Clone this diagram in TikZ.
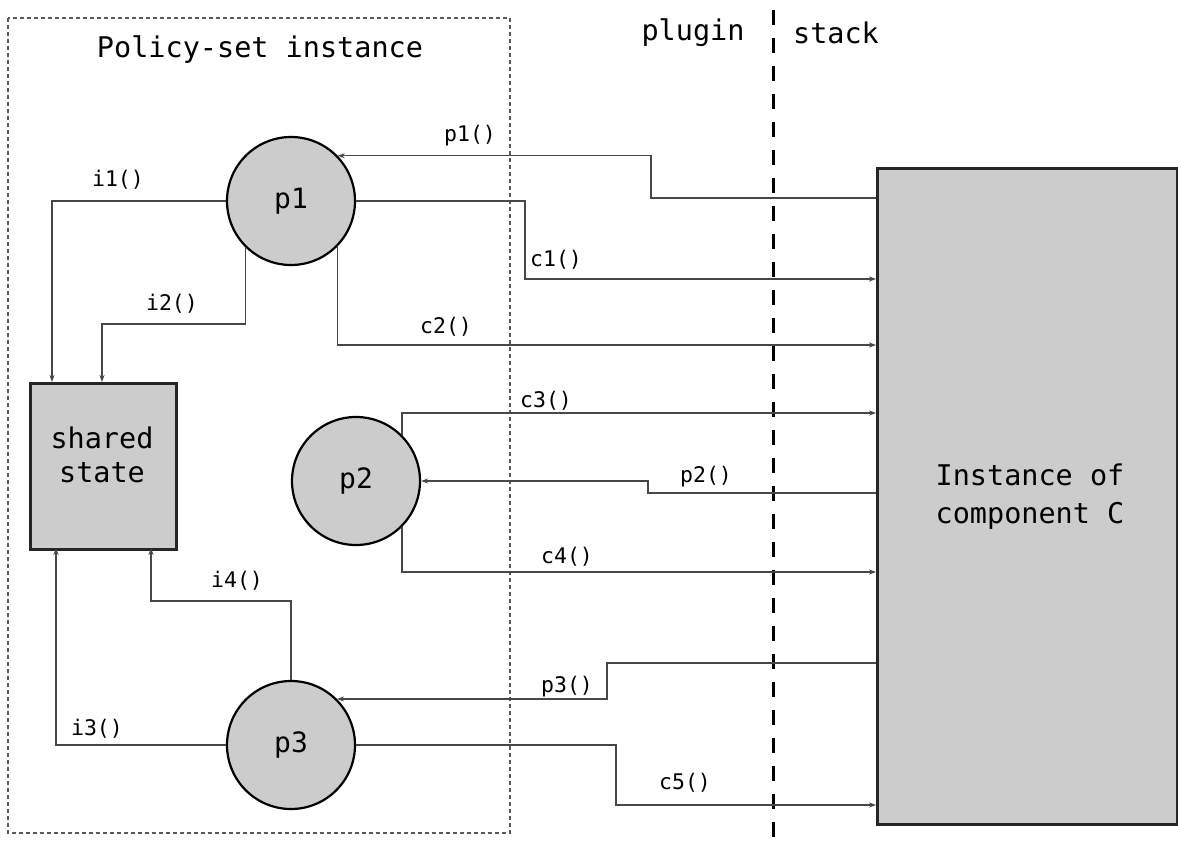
\documentclass[tikz,border=0pt]{standalone}
\usepackage{fontspec}
\newfontfamily\monofam{DejaVu Sans Mono}
\usetikzlibrary{arrows.meta}
\begin{document}
\begin{tikzpicture}[x=1pt,y=-1pt,
  conn/.style={line width=1.2pt,draw=black!72},
  arr/.style={conn,-{Stealth[length=7pt,width=5pt]}},
  proc/.style={circle,draw=black,line width=2.2pt,fill=black!20,minimum size=128pt,inner sep=0pt,font=\monofam\fontsize{28}{32}\selectfont},
  lbl/.style={font=\monofam\fontsize{21.5}{24}\selectfont,inner sep=0pt},
  big/.style={font=\monofam\fontsize{28.5}{32}\selectfont,inner sep=0pt}]
\useasboundingbox (0,0) rectangle (1178,850);
% policy-set box
\draw[line width=1.1pt,draw=black!65,dash pattern=on 4pt off 3pt] (8,18) rectangle (510,833);
\node[big] (title) at (260,50) {Policy-set instance};
\node[big] (plugin) at (693,33) {plugin};
\node[big] (stack) at (836,33) {stack};
% separator
\coordinate (septop) at (773,10);
\coordinate (sepbot) at (773,850);
\draw[line width=3pt,dash pattern=on 15pt off 13pt] (septop) -- (sepbot);
% component instance
\node[draw=black!85,line width=3pt,fill=black!20,minimum width=300pt,minimum height=656pt,anchor=north west,inner sep=0pt] (inst) at (876,167) {};
\node[big,align=center,font=\monofam\fontsize{28.5}{38}\selectfont] (insttxt) at (1030,497) {Instance of\\component C};
% shared state
\node[draw=black!85,line width=2.5pt,fill=black!20,minimum width=146pt,minimum height=166pt,anchor=north west,inner sep=0pt] (shared) at (29,382) {};
\node[big,align=center,font=\monofam\fontsize{28.5}{34}\selectfont] (sharedtxt) at (102,455) {shared\\state};
% processes
\node[proc] (p1) at (291,201) {p1};
\node[proc] (p2) at (356,481) {p2};
\node[proc] (p3) at (291,745) {p3};
% coordinates on edges
\coordinate (s1) at (52,382);
\coordinate (s2) at (102,382);
\coordinate (s3) at (56,548);
\coordinate (s4) at (151,548);
\coordinate (e1) at (876,198);
\coordinate (e2) at (876,279);
\coordinate (e3) at (876,345);
\coordinate (e4) at (876,413);
\coordinate (e5) at (876,493);
\coordinate (e6) at (876,572);
\coordinate (e7) at (876,663);
\coordinate (e8) at (876,805);
% p1 connectors
\draw[arr] (e1) -- (651,198) |- (p1.44);
\draw[arr] (p1.west) -| (s1);
\draw[arr] (p1.-134) |- (102,324) -- (s2);
\draw[arr] (p1.east) -| (525,279) -- (e2);
\draw[arr] (p1.-44) |- (e3);
% p2 connectors
\draw[arr] (p2.45) |- (e4);
\draw[arr] (e5) -- (648,493) |- (p2.east);
\draw[arr] (p2.-45) |- (e6);
% p3 connectors
\draw[arr] (p3.north) |- (151,601) -- (s4);
\draw[arr] (p3.west) -| (s3);
\draw[arr] (e7) -- (607,663) |- (p3.45);
\draw[arr] (p3.east) -| (616,805) -- (e8);
% labels
\node[lbl] (lp1) at (470,136) {p1()};
\node[lbl] (li1) at (118,180) {i1()};
\node[lbl] (li2) at (172,304) {i2()};
\node[lbl] (lc1) at (556,260) {c1()};
\node[lbl] (lc2) at (446,327) {c2()};
\node[lbl] (lc3) at (546,401) {c3()};
\node[lbl] (lp2) at (706,477) {p2()};
\node[lbl] (lc4) at (567,557) {c4()};
\node[lbl] (li4) at (237,581) {i4()};
\node[lbl] (li3) at (97,729) {i3()};
\node[lbl] (lp3) at (567,687) {p3()};
\node[lbl] (lc5) at (685,783) {c5()};
\end{tikzpicture}
\end{document}
